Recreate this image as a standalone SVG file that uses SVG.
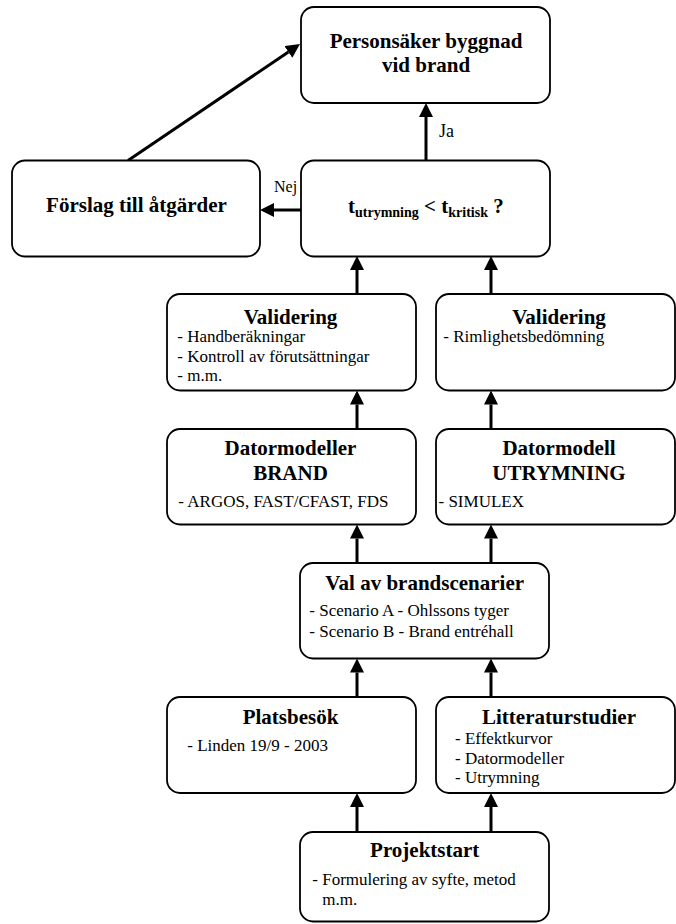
<svg xmlns="http://www.w3.org/2000/svg" width="676" height="924" viewBox="0 0 676 924">
<style>
.box{fill:#fff;stroke:#000;stroke-width:1.8}
.ti{font-family:"Liberation Serif","Times New Roman",serif;font-weight:bold;font-size:21px;fill:#000;text-anchor:middle}
.bd{font-family:"Liberation Serif","Times New Roman",serif;font-size:17px;fill:#000}
.lb{font-family:"Liberation Serif","Times New Roman",serif;fill:#000}
.cn{stroke:#000;stroke-width:3;fill:none}
</style>
<defs>
<marker id="ah" viewBox="0 0 14 14" refX="0" refY="7" markerWidth="14" markerHeight="14" markerUnits="userSpaceOnUse" orient="auto">
<path d="M0,0 L14,7 L0,14 z" fill="#000"/>
</marker>
</defs>
<rect width="676" height="924" fill="#fff"/>
<g id="connectors">
<line class="cn" x1="426" y1="160.5" x2="426" y2="117" marker-end="url(#ah)"/>
<line class="cn" x1="301" y1="210" x2="274" y2="210" marker-end="url(#ah)"/>
<line class="cn" x1="128" y1="160.5" x2="288.4" y2="51.9" marker-end="url(#ah)"/>
<line class="cn" x1="357" y1="294" x2="357" y2="270" marker-end="url(#ah)"/>
<line class="cn" x1="491" y1="294" x2="491" y2="270" marker-end="url(#ah)"/>
<line class="cn" x1="357" y1="429" x2="357" y2="404.5" marker-end="url(#ah)"/>
<line class="cn" x1="491" y1="429" x2="491" y2="404.5" marker-end="url(#ah)"/>
<line class="cn" x1="357" y1="563" x2="357" y2="538.5" marker-end="url(#ah)"/>
<line class="cn" x1="491" y1="563" x2="491" y2="538.5" marker-end="url(#ah)"/>
<line class="cn" x1="357" y1="697" x2="357" y2="672.5" marker-end="url(#ah)"/>
<line class="cn" x1="491" y1="697" x2="491" y2="672.5" marker-end="url(#ah)"/>
<line class="cn" x1="357" y1="832" x2="357" y2="807" marker-end="url(#ah)"/>
<line class="cn" x1="491" y1="832" x2="491" y2="807" marker-end="url(#ah)"/>
<text class="lb" x="439" y="137" font-size="18">Ja</text>
<text class="lb" x="274" y="192" font-size="16">Nej</text>
</g>
<g id="personsaker">
<rect class="box" x="301" y="7" width="249" height="96" rx="13"/>
<text class="ti" x="426" y="48">Personsäker byggnad</text>
<text class="ti" x="426" y="72">vid brand</text>
</g>
<g id="forslag">
<rect class="box" x="12" y="160.5" width="248" height="96" rx="13"/>
<text class="ti" x="136.5" y="212">Förslag till åtgärder</text>
</g>
<g id="beslut">
<rect class="box" x="301" y="160.5" width="249" height="96" rx="13"/>
<text class="ti" x="348" y="213" text-anchor="start" xml:space="preserve" style="text-anchor:start">t<tspan font-size="14" dy="4">utrymning</tspan><tspan dy="-4"> &lt; t</tspan><tspan font-size="14" dy="4">kritisk</tspan><tspan dy="-4"> ?</tspan></text>
</g>
<g id="validering-brand">
<rect class="box" x="167" y="294" width="249" height="96.5" rx="13"/>
<text class="ti" x="290.5" y="323.5">Validering</text>
<text class="bd" x="177.3" y="341.7">- Handberäkningar</text>
<text class="bd" x="177.3" y="361.7">- Kontroll av förutsättningar</text>
<text class="bd" x="177.3" y="380.5">- m.m.</text>
</g>
<g id="validering-utrymning">
<rect class="box" x="436" y="294" width="239" height="96.5" rx="13"/>
<text class="ti" x="559" y="323.5">Validering</text>
<text class="bd" x="443.3" y="341.7">- Rimlighetsbedömning</text>
</g>
<g id="datormodeller-brand">
<rect class="box" x="167" y="429" width="249" height="95.5" rx="13"/>
<text class="ti" x="290.5" y="455">Datormodeller</text>
<text class="ti" x="290.5" y="480">BRAND</text>
<text class="bd" x="178.3" y="506.7">- ARGOS, FAST/CFAST, FDS</text>
</g>
<g id="datormodell-utrymning">
<rect class="box" x="436" y="429" width="239" height="95.5" rx="13"/>
<text class="ti" x="559" y="455">Datormodell</text>
<text class="ti" x="559" y="480">UTRYMNING</text>
<text class="bd" x="438.5" y="506.7">- SIMULEX</text>
</g>
<g id="brandscenarier">
<rect class="box" x="300" y="563" width="249" height="95.5" rx="13"/>
<text class="ti" x="424.7" y="590">Val av brandscenarier</text>
<text class="bd" x="309.3" y="616">- Scenario A - Ohlssons tyger</text>
<text class="bd" x="309.3" y="636.7">- Scenario B - Brand entréhall</text>
</g>
<g id="platsbesok">
<rect class="box" x="167" y="697" width="249" height="96" rx="13"/>
<text class="ti" x="290.5" y="724">Platsbesök</text>
<text class="bd" x="187.3" y="750.7">- Linden 19/9 - 2003</text>
</g>
<g id="litteraturstudier">
<rect class="box" x="436" y="697" width="239" height="96" rx="13"/>
<text class="ti" x="559" y="724">Litteraturstudier</text>
<text class="bd" x="455" y="744">- Effektkurvor</text>
<text class="bd" x="455" y="763.7">- Datormodeller</text>
<text class="bd" x="455" y="783.3">- Utrymning</text>
</g>
<g id="projektstart">
<rect class="box" x="300" y="832" width="249" height="89.5" rx="13"/>
<text class="ti" x="424.7" y="857.3">Projektstart</text>
<text class="bd" x="312.3" y="885">- Formulering av syfte, metod</text>
<text class="bd" x="322.3" y="905">m.m.</text>
</g>
</svg>
